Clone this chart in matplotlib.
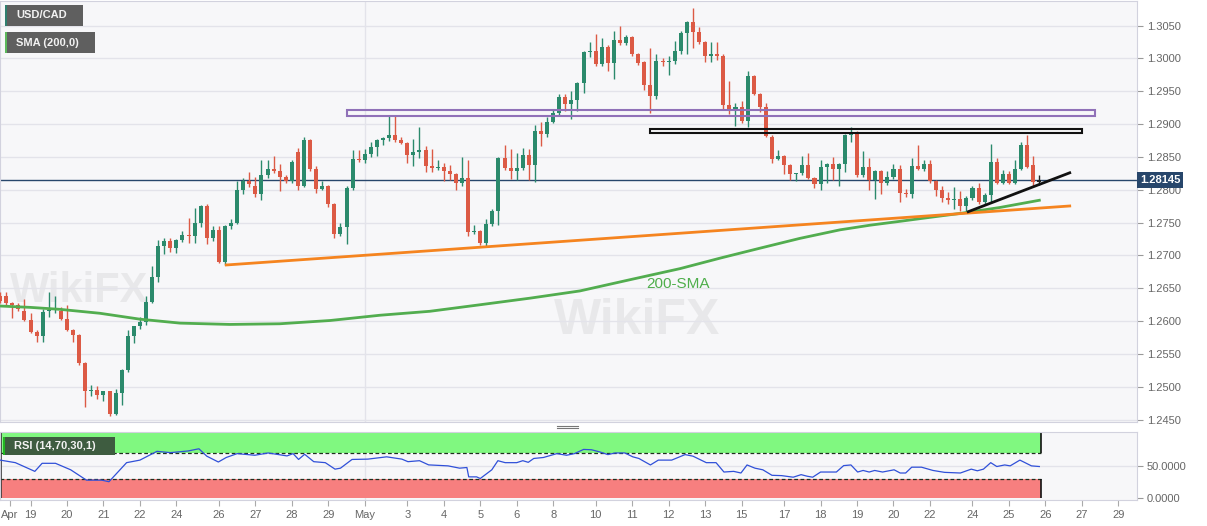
import numpy as np
import matplotlib
matplotlib.use('Agg')
import matplotlib.pyplot as plt
import matplotlib.transforms as mtransforms
from matplotlib.patches import Rectangle
from matplotlib.lines import Line2D

plt.rcParams['font.family'] = ['Liberation Sans', 'DejaVu Sans']

W, H = 1207, 526

# USD/CAD 4H candles, bar 0 = first visible bar (Apr 18)
opens = [1.2639, 1.2638, 1.2627, 1.2624, 1.2616, 1.2601, 1.2584, 1.2577, 1.2615, 1.2617,
         1.2616, 1.2604, 1.2587, 1.2579, 1.2537, 1.2494, 1.2495, 1.2487, 1.2493, 1.2459,
         1.2491, 1.2525, 1.2577, 1.2592, 1.2598, 1.2629, 1.2667, 1.2715, 1.2722, 1.2711,
         1.2724, 1.2731, 1.2730, 1.2749, 1.2776, 1.2726, 1.2738, 1.2690, 1.2745, 1.2750,
         1.2799, 1.2813, 1.2806, 1.2794, 1.2823, 1.2831, 1.2828, 1.2819, 1.2814, 1.2857,
         1.2806, 1.2876, 1.2832, 1.2801, 1.2805, 1.2778, 1.2732, 1.2743, 1.2803, 1.2847,
         1.2845, 1.2855, 1.2865, 1.2875, 1.2879, 1.2884, 1.2875, 1.2871, 1.2853, 1.2858,
         1.2860, 1.2836, 1.2833, 1.2834, 1.2829, 1.2824, 1.2810, 1.2818, 1.2735, 1.2737,
         1.2719, 1.2748, 1.2768, 1.2848, 1.2833, 1.2828, 1.2833, 1.2853, 1.2838, 1.2889,
         1.2885, 1.2903, 1.2917, 1.2941, 1.2930, 1.2936, 1.2962, 1.3009, 1.3011, 1.2992,
         1.3017, 1.2993, 1.3028, 1.3023, 1.3032, 1.3006, 1.2994, 1.2960, 1.2942, 1.2996,
         1.2995, 1.2996, 1.3011, 1.3039, 1.3055, 1.3040, 1.3025, 1.3003, 1.3006, 1.3004,
         1.2929, 1.2921, 1.2926, 1.2905, 1.2973, 1.2946, 1.2926, 1.2881, 1.2847, 1.2851,
         1.2837, 1.2824, 1.2825, 1.2838, 1.2818, 1.2808, 1.2835, 1.2839, 1.2831, 1.2839,
         1.2883, 1.2888, 1.2823, 1.2834, 1.2815, 1.2828, 1.2810, 1.2819, 1.2831, 1.2795,
         1.2794, 1.2836, 1.2832, 1.2839, 1.2813, 1.2799, 1.2788, 1.2784, 1.2786, 1.2775,
         1.2787, 1.2802, 1.2781, 1.2792, 1.2842, 1.2810, 1.2824, 1.2810, 1.2832, 1.2868,
         1.2837, 1.2812]
highs = [1.2645, 1.2644, 1.2629, 1.2628, 1.2634, 1.2613, 1.2586, 1.2618, 1.2644, 1.2638,
         1.2622, 1.2625, 1.2588, 1.2580, 1.2538, 1.2503, 1.2501, 1.2494, 1.2494, 1.2497,
         1.2527, 1.2587, 1.2593, 1.2606, 1.2638, 1.2684, 1.2724, 1.2726, 1.2726, 1.2725,
         1.2737, 1.2757, 1.2772, 1.2777, 1.2778, 1.2745, 1.2745, 1.2747, 1.2755, 1.2813,
         1.2818, 1.2827, 1.2819, 1.2846, 1.2846, 1.2852, 1.2839, 1.2822, 1.2846, 1.2864,
         1.2880, 1.2877, 1.2836, 1.2814, 1.2807, 1.2780, 1.2750, 1.2805, 1.2861, 1.2861,
         1.2862, 1.2872, 1.2877, 1.2880, 1.2914, 1.2914, 1.2880, 1.2873, 1.2878, 1.2895,
         1.2867, 1.2862, 1.2845, 1.2840, 1.2837, 1.2826, 1.2850, 1.2846, 1.2746, 1.2739,
         1.2755, 1.2771, 1.2850, 1.2868, 1.2862, 1.2856, 1.2864, 1.2862, 1.2899, 1.2903,
         1.2910, 1.2921, 1.2945, 1.2945, 1.2950, 1.2964, 1.3011, 1.3025, 1.3037, 1.3031,
         1.3020, 1.3042, 1.3050, 1.3036, 1.3034, 1.3008, 1.2996, 1.3016, 1.3006, 1.3000,
         1.3004, 1.3026, 1.3041, 1.3057, 1.3076, 1.3048, 1.3027, 1.3025, 1.3025, 1.3006,
         1.2966, 1.2932, 1.2935, 1.2980, 1.2975, 1.2948, 1.2932, 1.2883, 1.2860, 1.2853,
         1.2839, 1.2826, 1.2852, 1.2856, 1.2820, 1.2846, 1.2841, 1.2850, 1.2841, 1.2885,
         1.2895, 1.2890, 1.2859, 1.2848, 1.2830, 1.2830, 1.2829, 1.2839, 1.2837, 1.2801,
         1.2849, 1.2868, 1.2845, 1.2845, 1.2815, 1.2806, 1.2797, 1.2804, 1.2798, 1.2790,
         1.2806, 1.2811, 1.2795, 1.2870, 1.2849, 1.2830, 1.2828, 1.2846, 1.2872, 1.2884,
         1.2852, 1.2822]
lows = [1.2628, 1.2625, 1.2605, 1.2616, 1.2600, 1.2582, 1.2569, 1.2569, 1.2607, 1.2612,
        1.2602, 1.2585, 1.2568, 1.2534, 1.2470, 1.2486, 1.2482, 1.2478, 1.2456, 1.2457,
        1.2473, 1.2523, 1.2567, 1.2588, 1.2594, 1.2627, 1.2659, 1.2702, 1.2705, 1.2703,
        1.2720, 1.2719, 1.2719, 1.2743, 1.2717, 1.2722, 1.2688, 1.2685, 1.2741, 1.2748,
        1.2793, 1.2804, 1.2789, 1.2784, 1.2818, 1.2826, 1.2798, 1.2811, 1.2810, 1.2800,
        1.2804, 1.2828, 1.2795, 1.2799, 1.2773, 1.2727, 1.2729, 1.2718, 1.2800, 1.2843,
        1.2840, 1.2850, 1.2851, 1.2868, 1.2874, 1.2873, 1.2869, 1.2840, 1.2836, 1.2848,
        1.2827, 1.2827, 1.2830, 1.2813, 1.2815, 1.2799, 1.2805, 1.2730, 1.2733, 1.2716,
        1.2714, 1.2745, 1.2747, 1.2830, 1.2817, 1.2815, 1.2830, 1.2815, 1.2812, 1.2866,
        1.2880, 1.2901, 1.2914, 1.2920, 1.2908, 1.2920, 1.2947, 1.3002, 1.2988, 1.2989,
        1.2981, 1.2968, 1.3020, 1.3020, 1.3004, 1.2990, 1.2952, 1.2917, 1.2938, 1.2989,
        1.2975, 1.2992, 1.3006, 1.3006, 1.3016, 1.3022, 1.2995, 1.2994, 1.2998, 1.2922,
        1.2916, 1.2897, 1.2901, 1.2895, 1.2944, 1.2918, 1.2880, 1.2840, 1.2845, 1.2824,
        1.2815, 1.2814, 1.2822, 1.2816, 1.2802, 1.2799, 1.2811, 1.2815, 1.2805, 1.2827,
        1.2873, 1.2820, 1.2820, 1.2799, 1.2786, 1.2793, 1.2807, 1.2816, 1.2782, 1.2789,
        1.2788, 1.2830, 1.2829, 1.2810, 1.2790, 1.2781, 1.2779, 1.2771, 1.2767, 1.2767,
        1.2785, 1.2778, 1.2777, 1.2781, 1.2808, 1.2808, 1.2808, 1.2808, 1.2830, 1.2833,
        1.2805, 1.2807]
closes = [1.2630, 1.2628, 1.2624, 1.2618, 1.2601, 1.2584, 1.2577, 1.2614, 1.2617, 1.2618,
          1.2604, 1.2587, 1.2579, 1.2537, 1.2494, 1.2495, 1.2487, 1.2493, 1.2459, 1.2491,
          1.2525, 1.2577, 1.2592, 1.2598, 1.2629, 1.2667, 1.2715, 1.2722, 1.2712, 1.2723,
          1.2731, 1.2730, 1.2749, 1.2776, 1.2726, 1.2738, 1.2690, 1.2745, 1.2750, 1.2799,
          1.2813, 1.2808, 1.2794, 1.2823, 1.2831, 1.2828, 1.2819, 1.2814, 1.2842, 1.2806,
          1.2876, 1.2832, 1.2801, 1.2805, 1.2778, 1.2732, 1.2743, 1.2803, 1.2847, 1.2845,
          1.2855, 1.2865, 1.2875, 1.2879, 1.2884, 1.2875, 1.2871, 1.2853, 1.2858, 1.2860,
          1.2836, 1.2833, 1.2834, 1.2829, 1.2824, 1.2810, 1.2818, 1.2735, 1.2737, 1.2719,
          1.2748, 1.2768, 1.2848, 1.2833, 1.2828, 1.2833, 1.2853, 1.2838, 1.2889, 1.2885,
          1.2903, 1.2917, 1.2941, 1.2930, 1.2936, 1.2962, 1.3009, 1.3011, 1.2992, 1.3017,
          1.2993, 1.3028, 1.3023, 1.3032, 1.3006, 1.2993, 1.2960, 1.2942, 1.2996, 1.2995,
          1.2996, 1.3011, 1.3039, 1.3055, 1.3040, 1.3025, 1.3003, 1.3006, 1.3004, 1.2929,
          1.2921, 1.2926, 1.2905, 1.2973, 1.2946, 1.2926, 1.2882, 1.2847, 1.2851, 1.2837,
          1.2824, 1.2825, 1.2838, 1.2818, 1.2808, 1.2835, 1.2839, 1.2831, 1.2839, 1.2883,
          1.2888, 1.2823, 1.2834, 1.2815, 1.2828, 1.2810, 1.2819, 1.2831, 1.2795, 1.2794,
          1.2836, 1.2832, 1.2839, 1.2813, 1.2799, 1.2788, 1.2784, 1.2786, 1.2775, 1.2787,
          1.2802, 1.2781, 1.2792, 1.2842, 1.2810, 1.2824, 1.2811, 1.2832, 1.2868, 1.2835,
          1.2812, 1.28145]

# 200-period SMA (bar index, value)
sma_x = [0, 4.9, 9.8, 16.4, 23.0, 29.6, 37.8, 46.0, 54.3, 62.5, 70.7, 79.0, 87.2, 95.4,
         103.6, 111.9, 118.5, 125.0, 131.6, 138.2, 143.1, 148.1, 153.0, 158.0, 164.5, 171.0]
sma_y = [1.2623, 1.2621, 1.2618, 1.2612, 1.2603, 1.2597, 1.2595, 1.2596, 1.2601, 1.2609,
         1.2615, 1.2625, 1.2635, 1.2646, 1.2663, 1.2680, 1.2696, 1.2711, 1.2726, 1.2739,
         1.2746, 1.2752, 1.2758, 1.2764, 1.2773, 1.2784]

# RSI(14)
rsi_x = [0, 2.5, 5.7, 6.9, 9.1, 11.6, 14.2, 16.7, 17.9, 20.8, 23.0, 25.8, 28.0, 30.9, 32.7,
         34.0, 35.9, 37.2, 39.0, 41.9, 44.1, 47.2, 48.2, 49.1, 50.1, 51.6, 53.5, 55.1, 56.0,
         57.9, 60.5, 63.6, 66.1, 67.1, 69.0, 70.5, 73.7, 75.6, 76.8, 77.1, 78.4, 79.0, 80.9,
         81.9, 83.1, 85.0, 86.0, 86.9, 87.8, 89.4, 91.6, 93.2, 94.5, 96.0, 97.3, 98.7,
         100.0, 101.2, 102.8, 104.1, 105.1, 107.0, 108.3, 110.5, 112.7, 114.0, 116.2, 117.8,
         119.1, 120.7, 121.9, 122.9, 124.2, 125.5, 127.0, 128.6, 130.5, 131.8, 132.8, 133.7,
         135.0, 137.6, 138.8, 140.0, 141.1, 142.0, 143.0, 143.9, 145.2, 147.1, 148.1, 149.0,
         150.0, 151.6, 153.5, 155.4, 158.0, 159.8, 160.8, 161.8, 163.0, 164.0, 165.3, 166.2,
         167.8, 169.7, 171.0]
rsi_y = [58.6, 54.7, 41.4, 53.7, 53.7, 43.8, 28.0, 28.0, 25.6, 54.7, 58.6, 72.0, 70.0, 72.5,
         75.9, 64.6, 55.7, 62.6, 68.5, 66.0, 69.5, 65.0, 68.5, 59.6, 67.5, 56.2, 54.7, 44.8,
         46.3, 59.6, 60.1, 63.6, 60.1, 56.2, 57.7, 51.3, 49.8, 46.3, 47.3, 33.0, 33.0, 30.5,
         43.8, 57.7, 54.7, 54.7, 57.7, 55.2, 61.1, 62.6, 68.5, 66.0, 68.5, 74.9, 74.4, 71.0,
         67.0, 69.5, 69.5, 63.6, 61.1, 51.2, 58.6, 58.6, 67.0, 64.6, 54.7, 54.7, 40.4, 41.4,
         38.9, 51.2, 46.3, 43.8, 35.4, 34.9, 32.5, 36.4, 34.0, 32.5, 40.4, 40.4, 50.2, 51.2,
         40.4, 42.8, 40.4, 42.8, 40.4, 43.8, 38.9, 38.9, 47.8, 47.8, 42.8, 39.9, 38.9, 44.8,
         42.3, 44.8, 54.7, 48.8, 51.2, 49.8, 58.6, 49.8, 48.8]

# analyst drawings (bar index, price)
resistance_zone = (57.1, 180.2, 1.2912, 1.2922)
support_zone = (107.0, 178.0, 1.2886, 1.2893)
orange_trend = ([37.2, 176.0], [1.26855, 1.27753])
black_trend = ([159.3, 176.0], [1.27666, 1.28258])
last_price = 1.28145

tick_pos = [1.6, 5, 11, 17, 23, 29, 36, 42, 48, 54, 60, 67, 73, 79, 85, 91, 98, 104, 110,
            116, 122, 129, 135, 141, 147, 153, 160, 166, 172, 178, 184]
tick_labels = ['Apr', '19', '20', '21', '22', '24', '26', '27', '28', '29', 'May', '3', '4',
               '5', '6', '8', '10', '11', '12', '13', '15', '17', '18', '19', '20', '22',
               '24', '25', '26', '27', '29']

UP = '#2b8a6c'
DOWN = '#dc5a45'
BG = '#f7f7f9'
GRID = '#e3e3ea'
SPINE = '#d2d2de'
TXT = '#666666'

fig = plt.figure(figsize=(W / 100, H / 100), dpi=100)
ax = fig.add_axes([0, 1 - 422 / H, 1137 / W, 421 / H])
rax = fig.add_axes([0, 1 - 500 / H, 1137 / W, 68 / H], sharex=ax)

for a in (ax, rax):
    a.set_facecolor(BG)
    for s in a.spines.values():
        s.set_color(SPINE)
    a.yaxis.tick_right()
    a.tick_params(axis='y', colors=TXT, labelsize=8, length=4, color='#999999', pad=3)

# faint watermarks (drawn first, behind everything)
ax.text(0.07, 0.31, 'WikiFX', transform=ax.transAxes, color='#c8c8c8', alpha=0.3,
        fontsize=30, fontweight='bold', ha='center', va='center', zorder=0.5)
ax.text(0.56, 0.24, 'WikiFX', transform=ax.transAxes, color='#c8c8c8', alpha=0.3,
        fontsize=36, fontweight='bold', ha='center', va='center', zorder=0.5)

# candles
o = np.array(opens)
c = np.array(closes)
hi = np.maximum(np.array(highs), np.maximum(o, c))
lo = np.minimum(np.array(lows), np.minimum(o, c))
x = np.arange(len(o))
cols = np.where(c >= o, UP, DOWN).astype(object)
cols[-1] = '#222222'
ax.vlines(x, lo, hi, colors=list(cols), lw=1, zorder=3)
body_lo = np.minimum(o, c)
body_h = np.maximum(np.abs(c - o), 0.00012)
ax.bar(x, body_h, bottom=body_lo, width=0.66, color=list(cols), lw=0, zorder=3)

ax.axhline(last_price, color='#27466b', lw=1, zorder=2)
ax.plot(sma_x, sma_y, color='#52ad4f', lw=2, zorder=4)
ax.plot(*orange_trend, color='#f5841f', lw=2, zorder=4)
ax.plot(*black_trend, color='#111111', lw=2, zorder=5)
x0, x1, y0, y1 = resistance_zone
ax.add_patch(Rectangle((x0, y0), x1 - x0, y1 - y0, fc='none', ec='#9071b8', lw=1.5, zorder=4))
x0, x1, y0, y1 = support_zone
ax.add_patch(Rectangle((x0, y0), x1 - x0, y1 - y0, fc='none', ec='#111111', lw=1.5, zorder=4))
ax.text(111.6, 1.26565, '200-SMA', color='#4fae4c', fontsize=11, ha='center', va='center', zorder=5)

ax.set_xlim(-0.03, 187.07)
ax.set_ylim(1.24465, 1.30873)
yt = np.round(np.arange(1.245, 1.3051, 0.005), 4)
ax.set_yticks(yt)
ax.set_yticklabels([f'{v:.4f}' for v in yt])
ax.grid(axis='y', color=GRID, lw=1, zorder=0)
ax.axvline(60, color=GRID, lw=1, zorder=0)
ax.tick_params(axis='x', bottom=False, labelbottom=False)

trans = mtransforms.blended_transform_factory(ax.transAxes, ax.transData)
ax.text(1.0025, last_price, '1.28145', transform=trans, color='white', fontsize=8,
        fontweight='bold', va='center', ha='left', zorder=10,
        bbox=dict(boxstyle='square,pad=0.28', fc='#27466b', ec='none'))

# RSI panel
end = x[-1] + 0.35
rax.add_patch(Rectangle((-0.03, 70), end + 0.03, 30, fc='#80f880', ec='none', zorder=1))
rax.add_patch(Rectangle((-0.03, 0), end + 0.03, 30, fc='#f77f7f', ec='none', zorder=1))
rax.hlines([70, 30], -0.03, end, colors='#1f2f1f', lw=0.9, linestyles=(0, (3, 2)), zorder=2)
rax.vlines(end, 70, 100, colors='#111111', lw=1.2, zorder=2)
rax.vlines(end, 0, 30, colors='#111111', lw=1.2, zorder=2)
rax.vlines(0.1, 0, 100, colors='#333333', lw=1.2, zorder=2)
rax.axhline(50, color=GRID, lw=1, zorder=0)
rax.axvline(60, color=GRID, lw=1, zorder=0)
rax.plot(rsi_x, rsi_y, color='#3050d8', lw=0.9, zorder=3)
rax.set_ylim(-2.3, 101.5)
rax.set_yticks([0, 50])
rax.set_yticklabels(['0.0000', '50.0000'])
rax.set_xticks(tick_pos)
rax.set_xticklabels(tick_labels)
rax.tick_params(axis='x', colors=TXT, labelsize=8, length=4, color='#aaaaaa', pad=3)


def px_box(x0, y0, w, h, color, stripe, label):
    fig.add_artist(Rectangle((x0 / W, 1 - (y0 + h) / H), w / W, h / H,
                             transform=fig.transFigure, fc=color, ec='none', zorder=10))
    fig.add_artist(Rectangle((x0 / W, 1 - (y0 + h) / H), 2 / W, h / H,
                             transform=fig.transFigure, fc=stripe, ec='none', zorder=11))
    fig.text((x0 + 11) / W, 1 - (y0 + h / 2) / H, label, color='#f2f2f2', fontsize=8,
             fontweight='bold', ha='left', va='center', zorder=12)


px_box(5, 5, 78, 21, '#5f5f5f', '#2f7f6f', 'USD/CAD')
px_box(5, 32, 90, 21, '#5f5f5f', '#5cb85c', 'SMA (200,0)')
px_box(3, 437, 112, 18, '#3e5c40', '#22b522', 'RSI (14,70,30,1)')

# panel splitter handle
for yy in (425.5, 428):
    fig.add_artist(Line2D([557 / W, 578 / W], [1 - yy / H, 1 - yy / H], color='#777777', lw=0.8))

fig.savefig('out.png', dpi=100, facecolor='white')
